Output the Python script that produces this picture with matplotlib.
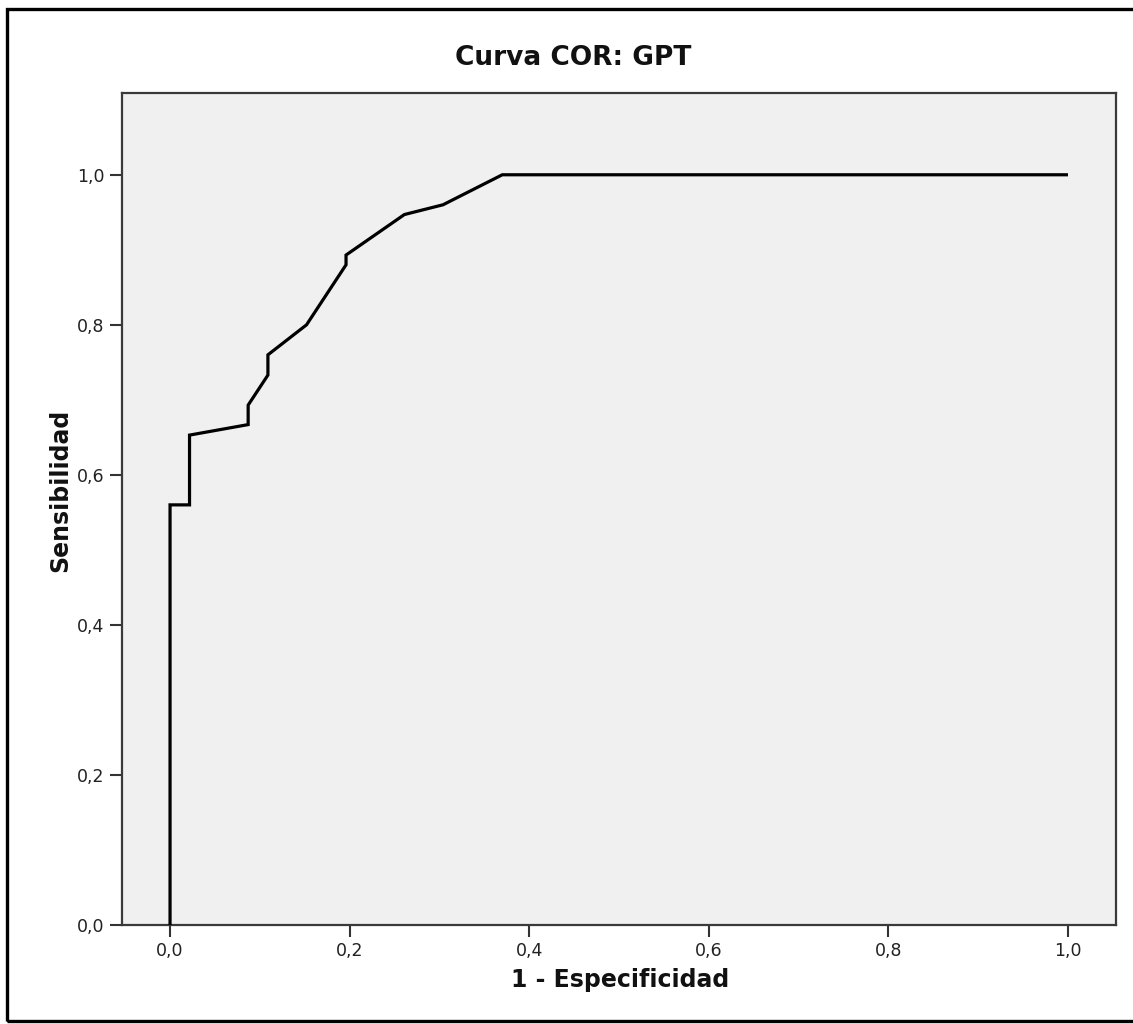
import matplotlib
matplotlib.use("Agg")
import matplotlib.pyplot as plt
from matplotlib.ticker import FuncFormatter, FixedLocator
from matplotlib.patches import Rectangle

# ROC curve vertices for GPT (1 - specificity, sensitivity)
fpr = [0.0, 0.0, 0.0217, 0.0217, 0.087, 0.087, 0.109, 0.109, 0.152,
       0.196, 0.196, 0.261, 0.304, 0.370, 1.0]
tpr = [0.0, 0.56, 0.56, 0.653, 0.667, 0.693, 0.733, 0.76, 0.80,
       0.88, 0.893, 0.947, 0.96, 1.0, 1.0]

tick_values = [0.0, 0.2, 0.4, 0.6, 0.8, 1.0]
title_text = "Curva COR: GPT"
x_label = "1 - Especificidad"
y_label = "Sensibilidad"

W, H = 1133, 1024
fig = plt.figure(figsize=(W / 100, H / 100), dpi=100)
fig.patch.set_facecolor("white")

# outer frame around the whole chart
fig.patches.append(Rectangle((7 / W, 3 / H), 1.2, (1015 - 3) / H,
                             transform=fig.transFigure, fill=False,
                             edgecolor="black", linewidth=2.4, zorder=0))

left, right = 122 / W, 1116 / W
top, bottom = 1 - 93 / H, 1 - 925 / H
ax = fig.add_axes([left, bottom, right - left, top - bottom])
ax.set_facecolor("#f0f0f0")

ax.plot(fpr, tpr, color="black", linewidth=2.3, solid_joinstyle="miter",
        solid_capstyle="butt", zorder=3)

ax.set_xlim(-0.0535, 1.0535)
ax.set_ylim(0.0, 1.109)

for s in ax.spines.values():
    s.set_color("#3a3a3a")
    s.set_linewidth(1.6)

comma = FuncFormatter(lambda v, p: f"{v:.1f}".replace(".", ","))
ax.xaxis.set_major_locator(FixedLocator(tick_values))
ax.yaxis.set_major_locator(FixedLocator(tick_values))
ax.xaxis.set_major_formatter(comma)
ax.yaxis.set_major_formatter(comma)
ax.tick_params(axis="both", direction="out", length=8.5, width=1.5,
               color="#333333", labelsize=12.5, labelcolor="#222222", pad=4)

fig.text(573 / W, 1 - 65 / H, title_text, ha="center", va="baseline",
         fontsize=19, fontweight="bold", color="#111111")
fig.text(620 / W, 1 - 987 / H, x_label, ha="center", va="baseline",
         fontsize=17, fontweight="bold", color="#111111")
fig.text(67 / W, 1 - 490 / H, y_label, ha="center", va="baseline",
         rotation=90, rotation_mode="anchor", fontsize=17,
         fontweight="bold", color="#111111")

fig.savefig("out.png", dpi=100)
